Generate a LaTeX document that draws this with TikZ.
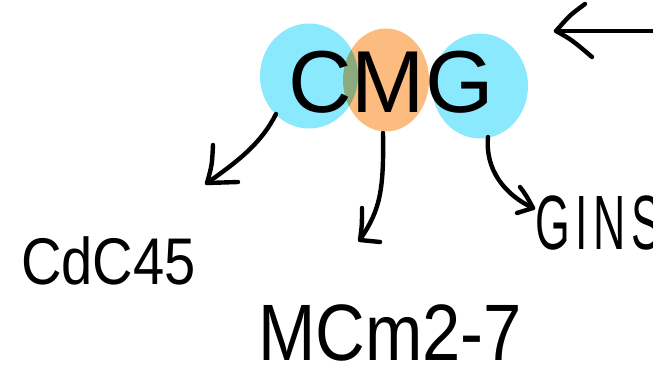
\documentclass[tikz,border=0pt]{standalone}
\usepackage{fontspec}
\setmainfont{Liberation Sans}
\usetikzlibrary{shapes.geometric}
\definecolor{blobblue}{HTML}{8BE9FD}
\definecolor{bloborange}{HTML}{FDBC7F}
\tikzset{
  blob/.style={ellipse, inner sep=0pt, draw=none},
  pen/.style={line width=4.4pt, line cap=round, line join=round, black},
  hand/.style={inner sep=0pt, anchor=base west, text=black}
}
\begin{document}
\begin{tikzpicture}[x=1pt,y=-1pt]
\useasboundingbox (0,0) rectangle (653,377);
\fill[white] (0,0) rectangle (653,377);
% blobs
\node[blob, fill=blobblue, minimum width=98pt, minimum height=105pt] (lb) at (309,76) {};
\node[blob, fill=blobblue, minimum width=96pt, minimum height=105pt] (rb) at (480,86) {};
\begin{scope}[blend mode=multiply]
\node[blob, fill=bloborange, minimum width=86pt, minimum height=103pt] (ob) at (386,80) {};
\end{scope}
% title
\node[inner sep=0pt, anchor=base, font=\fontsize{88}{88}\selectfont] (cmg) at (391,113) {CMG};
% labels
\node[hand] (cdc) at (21,284) {\fontsize{66}{66}\selectfont\scalebox{0.85}[1]{CdC45}};
\node[hand] (mcm) at (258,360) {\fontsize{80}{80}\selectfont\scalebox{0.86}[1]{MCm2-7}};
\node[hand] (gins) at (535,249) {\fontsize{77}{77}\selectfont\scalebox{0.58}[1]{G\kern10pt I\kern10pt N\kern10pt S}};
% connector end points
\coordinate (a1s) at (276,114);
\coordinate (a1t) at (207,183);
\coordinate (a2s) at (383,133);
\coordinate (a2t) at (361,238);
\coordinate (a3s) at (488,137);
\coordinate (a3t) at (533,208);
\coordinate (a4s) at (660,31);
\coordinate (a4t) at (556,31);
% arrow to CdC45
\draw[pen] (a1s) .. controls (262,142) and (240,160) .. (a1t);
\draw[pen] (213,145) .. controls (212,165) .. (a1t) -- (238,182);
% arrow to MCm2-7
\draw[pen] (a2s) .. controls (384,190) and (380,210) .. (a2t);
\draw[pen] (362,208) .. controls (362,225) .. (360,240) -- (380,242);
% arrow to GINS
\draw[pen] (a3s) .. controls (485,170) and (505,195) .. (a3t);
\draw[pen] (520,187) .. controls (526,195) .. (a3t) -- (517,213);
% top arrow
\draw[pen] (a4s) -- (a4t);
\draw[pen] (585,4) .. controls (570,15) .. (a4t) .. controls (572,40) .. (592,57);
\end{tikzpicture}
\end{document}
